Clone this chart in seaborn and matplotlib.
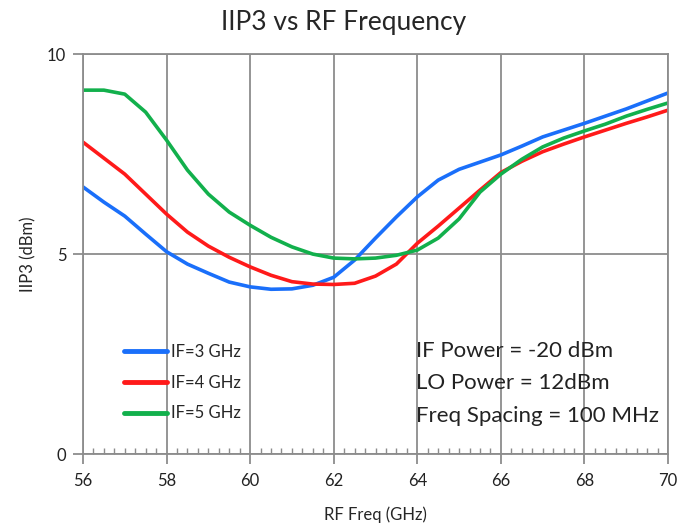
import numpy as np
import pandas as pd
import seaborn as sns
import matplotlib.pyplot as plt

# RF frequency (GHz), 0.5 GHz steps
rf_freq = [56, 56.5, 57, 57.5, 58, 58.5, 59, 59.5, 60, 60.5, 61, 61.5, 62, 62.5, 63,
           63.5, 64, 64.5, 65, 65.5, 66, 66.5, 67, 67.5, 68, 68.5, 69, 69.5, 70]

iip3_if3 = [6.68, 6.3, 5.95, 5.5, 5.06, 4.75, 4.52, 4.3, 4.18, 4.12, 4.13, 4.22, 4.42, 4.85, 5.4,
            5.93, 6.43, 6.85, 7.12, 7.3, 7.48, 7.7, 7.93, 8.1, 8.27, 8.45, 8.63, 8.83, 9.03]
iip3_if4 = [7.8, 7.4, 7.0, 6.5, 6.0, 5.55, 5.2, 4.92, 4.68, 4.47, 4.31, 4.25, 4.24, 4.27, 4.45,
            4.75, 5.27, 5.7, 6.15, 6.6, 7.04, 7.32, 7.56, 7.75, 7.93, 8.1, 8.27, 8.43, 8.6]
iip3_if5 = [9.1, 9.1, 9.0, 8.55, 7.85, 7.1, 6.5, 6.05, 5.72, 5.42, 5.18, 5.0, 4.9, 4.88, 4.9,
            4.97, 5.1, 5.4, 5.88, 6.55, 7.0, 7.37, 7.68, 7.9, 8.08, 8.25, 8.45, 8.62, 8.78]

series_names = ['IF=3 GHz', 'IF=4 GHz', 'IF=5 GHz']
colors = ['#1a6ffa', '#ff1a1a', '#12b04c']

x_ticks = [56, 58, 60, 62, 64, 66, 68, 70]
y_ticks = [0, 5, 10]

notes = ['IF Power = -20 dBm', 'LO Power = 12dBm', 'Freq Spacing = 100 MHz']

df = pd.DataFrame({
    'RF Freq': rf_freq * 3,
    'IIP3': iip3_if3 + iip3_if4 + iip3_if5,
    'IF': [series_names[0]] * len(rf_freq) + [series_names[1]] * len(rf_freq) + [series_names[2]] * len(rf_freq),
})

sns.set_style('white')
plt.rcParams['font.family'] = ['Lato', 'DejaVu Sans']

fig = plt.figure(figsize=(6.88, 5.31), dpi=100)
ax = fig.add_axes([0.1206, 0.145, 0.8504, 0.753])

sns.lineplot(data=df, x='RF Freq', y='IIP3', hue='IF', palette=colors, linewidth=2.6, ax=ax)

ax.set_xlim(56, 70)
ax.set_ylim(0, 10)
ax.set_xticks(x_ticks)
ax.set_yticks(y_ticks)
ax.set_xticks(np.arange(56, 70.01, 0.25), minor=True)
ax.grid(True, which='major', color='#8c8c8c', linewidth=1.3)
ax.set_axisbelow(True)
for s in ax.spines.values():
    s.set_color('#8c8c8c')
    s.set_linewidth(1.3)

ax.tick_params(axis='both', which='major', bottom=True, left=True, length=7, width=1.3,
               color='#8c8c8c', labelsize=12, labelcolor='#222222')
ax.tick_params(axis='x', which='minor', bottom=True, direction='in', length=4, width=1,
               color='#8c8c8c')
ax.tick_params(axis='x', which='major', pad=7)
ax.tick_params(axis='y', which='major', pad=5)

ax.set_xlabel('RF Freq (GHz)', fontsize=12, labelpad=12)
ax.set_ylabel('IIP3 (dBm)', fontsize=12, labelpad=8)
fig.suptitle('IIP3 vs RF Frequency', fontsize=19, y=0.982)

leg = ax.legend(loc='upper left', bbox_to_anchor=(0.07, 0.275), frameon=False,
                borderpad=0, borderaxespad=0, fontsize=12, handlelength=2.6,
                handletextpad=0.2, labelspacing=0.88)
for line in leg.get_lines():
    line.set_linewidth(3.5)

for i, note in enumerate(notes):
    ax.text(0.569, 0.2575 - i * 0.081, note, transform=ax.transAxes,
            fontsize=16, va='center', ha='left', color='#222222')

fig.savefig('out.png', dpi=100)
